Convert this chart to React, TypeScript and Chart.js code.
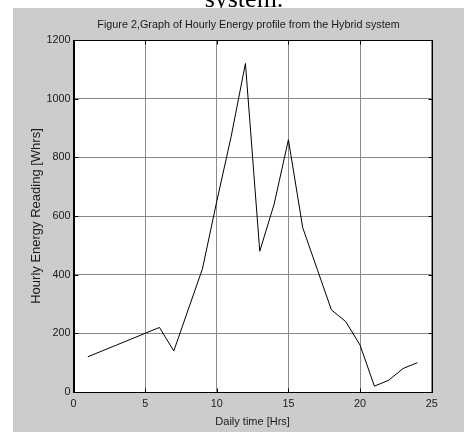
import { useEffect, useRef } from "react";
import { Chart, registerables } from "chart.js";

Chart.register(...registerables);

const hours = [1, 2, 3, 4, 5, 6, 7, 8, 9, 10, 11, 12, 13, 14, 15, 16, 17, 18, 19, 20, 21, 22, 23, 24];
const energyWh = [120, 140, 160, 180, 200, 220, 140, 280, 420, 650, 870, 1120, 480, 640, 860, 560, 420, 280, 240, 160, 20, 40, 80, 100];
const xTickValues = [0, 5, 10, 15, 20, 25];
const yTickValues = [0, 200, 400, 600, 800, 1000, 1200];
const chartTitle = "Figure 2,Graph of Hourly Energy profile from the Hybrid system";
const xAxisTitle = "Daily time [Hrs]";
const yAxisTitle = "Hourly Energy Reading [Whrs]";
const captionFragment = "system.";

const SANS = '"Liberation Sans", Arial, sans-serif';

const framePlugin = {
  id: "frame",
  beforeDraw(chart: any) {
    const { ctx, width, height, chartArea: a } = chart;
    ctx.save();
    ctx.fillStyle = "#ffffff";
    ctx.fillRect(0, 0, width, height);
    ctx.fillStyle = "#000000";
    ctx.font = '26px "Liberation Serif", "Times New Roman", serif';
    ctx.textAlign = "center";
    ctx.textBaseline = "alphabetic";
    ctx.fillText(captionFragment, 244, 7);
    ctx.fillStyle = "#cccccc";
    ctx.fillRect(13, 8, width - 13, height - 8);
    ctx.fillStyle = "#ffffff";
    ctx.fillRect(a.left, a.top, a.right - a.left, a.bottom - a.top);
    ctx.fillStyle = "#1a1a1a";
    ctx.font = "10.8px " + SANS;
    ctx.textAlign = "center";
    ctx.textBaseline = "middle";
    ctx.fillText(chartTitle, 248.5, 25);
    ctx.restore();
  },
  afterDraw(chart: any) {
    const { ctx, chartArea: a, scales } = chart;
    ctx.save();
    ctx.strokeStyle = "#000000";
    ctx.lineWidth = 1;
    const L = Math.round(a.left) + 0.5;
    const R = Math.round(a.right) + 0.5;
    const T = Math.round(a.top) + 0.5;
    const B = Math.round(a.bottom) + 0.5;
    ctx.strokeRect(L, T, R - L, B - T);
    ctx.beginPath();
    xTickValues.forEach((v) => {
      const x = Math.round(scales.x.getPixelForValue(v)) + 0.5;
      ctx.moveTo(x, B);
      ctx.lineTo(x, B - 4);
      ctx.moveTo(x, T);
      ctx.lineTo(x, T + 4);
    });
    yTickValues.forEach((v) => {
      const y = Math.round(scales.y.getPixelForValue(v)) + 0.5;
      ctx.moveTo(L, y);
      ctx.lineTo(L + 4, y);
      ctx.moveTo(R, y);
      ctx.lineTo(R - 4, y);
    });
    ctx.stroke();
    ctx.restore();
  },
};

export default function App() {
  const ref = useRef<HTMLCanvasElement | null>(null);

  useEffect(() => {
    document.body.style.margin = "0";
    const canvas = ref.current;
    if (!canvas) return;
    const chart = new Chart(canvas, {
      type: "line",
      data: {
        datasets: [
          {
            label: "Energy",
            data: hours.map((h, i) => ({ x: h, y: energyWh[i] })),
            borderColor: "#000000",
            borderWidth: 1,
            pointRadius: 0,
            tension: 0,
            fill: false,
          },
        ],
      },
      options: {
        animation: false,
        responsive: false,
        devicePixelRatio: 1,
        layout: { padding: { left: 0, right: 32.3, top: 40, bottom: 0 } },
        plugins: {
          legend: { display: false },
          title: { display: false },
          tooltip: { enabled: false },
        },
        scales: {
          x: {
            type: "linear",
            min: 0,
            max: 25,
            afterFit: (s: any) => {
              s.height = 40;
            },
            afterBuildTicks: (s: any) => {
              s.ticks = xTickValues.map((v) => ({ value: v }));
            },
            ticks: {
              padding: 6,
              color: "#1a1a1a",
              font: { family: SANS, size: 10.8 },
              maxRotation: 0,
              callback: (v: any) => String(v),
            },
            grid: { color: "#8a8a8a", lineWidth: 1, drawTicks: false },
            border: { display: true, color: "#000000", width: 1 },
            title: {
              display: true,
              text: xAxisTitle,
              color: "#1a1a1a",
              font: { family: SANS, size: 11 },
              padding: { top: 0, bottom: 3 },
            },
          },
          y: {
            type: "linear",
            min: 0,
            max: 1200,
            afterFit: (s: any) => {
              s.width = 73.5;
            },
            afterBuildTicks: (s: any) => {
              s.ticks = yTickValues.map((v) => ({ value: v }));
            },
            ticks: {
              padding: 3,
              color: "#1a1a1a",
              font: { family: SANS, size: 10.8 },
              callback: (v: any) => String(v),
            },
            grid: { color: "#8a8a8a", lineWidth: 1, drawTicks: false },
            border: { display: true, color: "#000000", width: 1 },
            title: {
              display: true,
              text: yAxisTitle,
              color: "#1a1a1a",
              font: { family: SANS, size: 13 },
              padding: { top: 28.2, bottom: 0 },
            },
          },
        },
      },
      plugins: [framePlugin],
    });
    return () => chart.destroy();
  }, []);

  return (
    <div style={{ width: 464, height: 432 }}>
      <canvas ref={ref} width={464} height={432} style={{ display: "block" }} />
    </div>
  );
}
